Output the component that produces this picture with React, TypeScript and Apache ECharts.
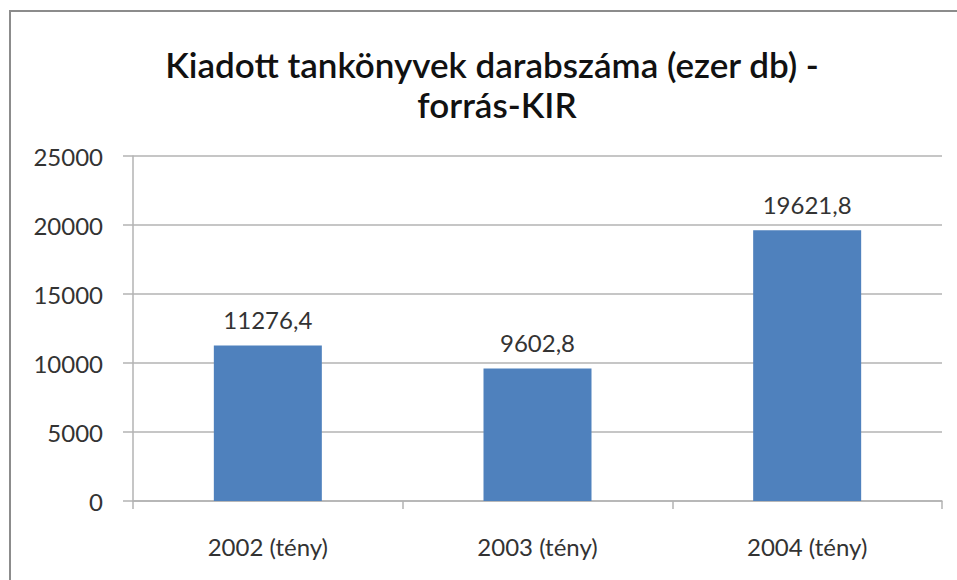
import React, { useEffect, useRef } from "react";
import * as echarts from "echarts";

const categories = ["2002 (tény)", "2003 (tény)", "2004 (tény)"];
const values = [11276.4, 9602.8, 19621.8];
const titleLines = ["Kiadott tankönyvek darabszáma (ezer db) -", "forrás-KIR"];
const yTicks = { min: 0, max: 25000, interval: 5000 };

export default function App() {
  const ref = useRef<HTMLDivElement>(null);
  useEffect(() => {
    if (!ref.current) return;
    const chart = echarts.init(ref.current, null, { renderer: "svg" });
    const font = "Lato, 'Open Sans', sans-serif";
    chart.setOption({
      animation: false,
      backgroundColor: "#ffffff",
      graphic: [
        {
          type: "line",
          shape: { x1: 9, y1: 11, x2: 957, y2: 11 },
          style: { stroke: "#8c8c8c", lineWidth: 2 },
        },
        {
          type: "line",
          shape: { x1: 10, y1: 10, x2: 10, y2: 580 },
          style: { stroke: "#8c8c8c", lineWidth: 2 },
        },
        {
          type: "text",
          x: 492,
          y: 64,
          style: {
            text: titleLines[0],
            font: `600 35px ${font}`,
            fill: "#111111",
            textAlign: "center",
            textVerticalAlign: "middle",
          },
        },
        {
          type: "text",
          x: 497,
          y: 104,
          style: {
            text: titleLines[1],
            font: `600 35px ${font}`,
            fill: "#111111",
            textAlign: "center",
            textVerticalAlign: "middle",
          },
        },
      ],
      grid: { left: 133, right: 15, top: 156, bottom: 79 },
      xAxis: {
        type: "category",
        data: categories,
        axisLine: { lineStyle: { color: "#b3b3b3", width: 1.5 } },
        axisTick: { show: true, length: 8, lineStyle: { color: "#b3b3b3", width: 1.5 } },
        axisLabel: { color: "#333333", fontFamily: font, fontSize: 24, margin: 33 },
      },
      yAxis: {
        type: "value",
        min: yTicks.min,
        max: yTicks.max,
        interval: yTicks.interval,
        axisLine: { show: true, lineStyle: { color: "#b3b3b3", width: 1.5 } },
        axisTick: { show: true, length: 10, lineStyle: { color: "#b3b3b3", width: 1.5 } },
        splitLine: { lineStyle: { color: "#b3b3b3", width: 1.5 } },
        axisLabel: {
          color: "#333333",
          fontFamily: font,
          fontSize: 24,
          margin: 30,
          formatter: (v: number) => String(v),
        },
      },
      series: [
        {
          type: "bar",
          data: values,
          barWidth: 108,
          itemStyle: { color: "#4F81BD" },
          label: {
            show: true,
            position: "top",
            distance: 14,
            color: "#333333",
            fontFamily: font,
            fontSize: 24,
            formatter: (p: any) => String(p.value).replace(".", ","),
          },
        },
      ],
    });
    return () => chart.dispose();
  }, []);
  return (
    <div
      ref={ref}
      style={{ position: "fixed", left: 0, top: 0, width: 957, height: 580 }}
    />
  );
}
